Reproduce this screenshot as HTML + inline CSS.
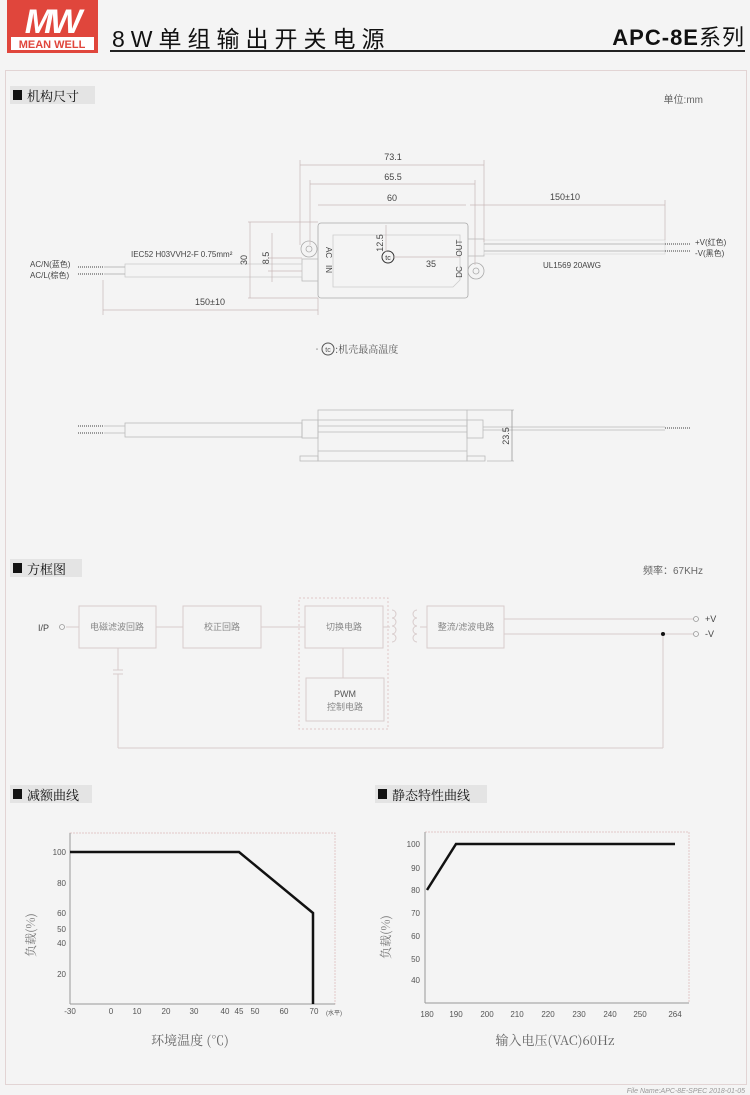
<!DOCTYPE html>
<html><head><meta charset="utf-8"><style>
html,body{margin:0;padding:0;background:#f4f4f4;}
svg{display:block;}
text{font-family:"Liberation Sans","Noto Sans CJK SC",sans-serif;}
.cj{font-family:"Noto Serif CJK SC","Noto Sans CJK SC",serif;}
</style></head><body>
<svg width="750" height="1095" viewBox="0 0 750 1095" xmlns="http://www.w3.org/2000/svg">
<rect width="750" height="1095" fill="#f4f4f4"/>
<!-- logo -->
<rect x="7" y="0" width="91" height="53" fill="#e0463c"/>
<text x="52" y="33" font-size="34" font-style="italic" font-weight="bold" fill="#fff" text-anchor="middle" letter-spacing="-3">MW</text>
<rect x="11" y="37" width="83" height="13" fill="#fff"/>
<text x="52" y="48" font-size="11" font-weight="bold" fill="#e0463c" text-anchor="middle">MEAN WELL</text>
<!-- title -->
<text x="112" y="47" font-size="23" fill="#111" letter-spacing="6">8W单组输出开关电源</text>
<text x="745" y="45" font-size="22" fill="#111" text-anchor="end" font-weight="bold" letter-spacing="1">APC-8E<tspan font-weight="normal">系列</tspan></text>
<line x1="110" y1="51" x2="745" y2="51" stroke="#222" stroke-width="2"/>
<!-- frame -->
<rect x="5.5" y="70.5" width="741" height="1014" fill="none" stroke="#e2d4d4" stroke-width="1"/>
<!-- section labels -->
<g font-size="13" fill="#111">
<rect x="10" y="86" width="85" height="18" fill="#e4e4e4"/><rect x="13" y="90" width="9" height="10" fill="#111"/><text x="27" y="101" class="cj">机构尺寸</text>
<rect x="10" y="559" width="72" height="18" fill="#e4e4e4"/><rect x="13" y="563" width="9" height="10" fill="#111"/><text x="27" y="574" class="cj">方框图</text>
<rect x="10" y="785" width="82" height="18" fill="#e4e4e4"/><rect x="13" y="789" width="9" height="10" fill="#111"/><text x="27" y="800" class="cj">减额曲线</text>
<rect x="375" y="785" width="112" height="18" fill="#e4e4e4"/><rect x="378" y="789" width="9" height="10" fill="#111"/><text x="392" y="800" class="cj">静态特性曲线</text>
</g>
<text x="703" y="103" font-size="10" fill="#666" text-anchor="end">单位:mm</text>
<text x="703" y="574" font-size="10" fill="#666" text-anchor="end">频率：67KHz</text>

<!-- mech drawing top view -->
<g stroke="#aaa" fill="none" stroke-width="0.8">
<rect x="318" y="223" width="150" height="75" rx="3"/>
<path d="M333 235 H460 V280 L453 287 H333 Z" stroke="#ccc"/>
<circle cx="309" cy="249" r="8"/><circle cx="309" cy="249" r="3"/>
<circle cx="476" cy="271" r="8"/><circle cx="476" cy="271" r="3"/>
<rect x="302" y="259" width="16" height="22" stroke="#bbb"/>
<rect x="468" y="239" width="16" height="17" stroke="#bbb"/>
<rect x="125" y="264" width="177" height="13" stroke="#ccc"/>
<line x1="104" y1="267" x2="125" y2="267"/><line x1="104" y1="274" x2="125" y2="274"/>
<rect x="484" y="240" width="181" height="14" stroke="#ddd"/>
<line x1="484" y1="244" x2="665" y2="244"/><line x1="484" y1="251" x2="665" y2="251"/>
</g>
<g stroke="#999" stroke-width="2" stroke-dasharray="1 1">
<line x1="78" y1="267" x2="104" y2="267"/><line x1="78" y1="274" x2="104" y2="274"/>
<line x1="665" y1="244" x2="690" y2="244"/><line x1="665" y1="251" x2="690" y2="251"/>
</g>
<circle cx="388" cy="257" r="6" fill="none" stroke="#333"/><text x="388" y="260" font-size="7" text-anchor="middle" fill="#333">tc</text>
<!-- dims -->
<g stroke="#c8b8b8" stroke-width="0.7" fill="none">
<line x1="300" y1="165" x2="484" y2="165"/><line x1="300" y1="160" x2="300" y2="245"/><line x1="484" y1="160" x2="484" y2="242"/>
<line x1="310" y1="184" x2="475" y2="184"/><line x1="310" y1="180" x2="310" y2="245"/><line x1="475" y1="180" x2="475" y2="265"/>
<line x1="318" y1="205" x2="466" y2="205"/><line x1="470" y1="205" x2="665" y2="205"/><line x1="665" y1="200" x2="665" y2="240"/>
<line x1="103" y1="310" x2="318" y2="310"/><line x1="103" y1="280" x2="103" y2="315"/><line x1="318" y1="298" x2="318" y2="315"/>
<line x1="250" y1="222" x2="250" y2="298"/><line x1="248" y1="222" x2="318" y2="222"/><line x1="248" y1="298" x2="318" y2="298"/>
<line x1="272" y1="233" x2="272" y2="282"/><line x1="268" y1="258" x2="302" y2="258"/><line x1="268" y1="271" x2="302" y2="271"/>
<line x1="386" y1="225" x2="386" y2="252"/><line x1="394" y1="257" x2="460" y2="257"/>
</g>
<g font-size="9" fill="#444">
<text x="393" y="160" text-anchor="middle">73.1</text>
<text x="393" y="180" text-anchor="middle">65.5</text>
<text x="392" y="201" text-anchor="middle">60</text>
<text x="565" y="200" text-anchor="middle">150±10</text>
<text x="210" y="305" text-anchor="middle">150±10</text>
<text x="431" y="267" text-anchor="middle">35</text>
<text x="247" y="260" transform="rotate(-90 247 260)" text-anchor="middle">30</text>
<text x="269" y="258" transform="rotate(-90 269 258)" text-anchor="middle">8.5</text>
<text x="383" y="243" transform="rotate(-90 383 243)" text-anchor="middle">12.5</text>
<text x="131" y="257" font-size="8">IEC52 H03VVH2-F  0.75mm²</text>
<text x="543" y="268" font-size="8">UL1569  20AWG</text>
<text x="695" y="245" font-size="8">+V(红色)</text>
<text x="695" y="256" font-size="8">-V(黑色)</text>
<text x="30" y="267" font-size="8">AC/N(蓝色)</text>
<text x="30" y="278" font-size="8">AC/L(棕色)</text>
<text x="326" y="247" font-size="8" transform="rotate(90 326 247)">AC</text>
<text x="326" y="265" font-size="8" transform="rotate(90 326 265)">IN</text>
<text x="462" y="248" font-size="8" transform="rotate(-90 462 248)" text-anchor="middle">OUT</text>
<text x="462" y="272" font-size="8" transform="rotate(-90 462 272)" text-anchor="middle">DC</text>
</g>
<text x="312" y="353" font-size="10" fill="#555" class="cj">•</text>
<circle cx="328" cy="349" r="6" fill="none" stroke="#555"/><text x="328" y="352" font-size="7" text-anchor="middle" fill="#555">tc</text>
<text x="335" y="353" font-size="10" fill="#555" class="cj">:机壳最高温度</text>

<!-- side view -->
<g stroke="#bbb" fill="none" stroke-width="0.8">
<rect x="318" y="410" width="149" height="51"/>
<line x1="318" y1="420" x2="467" y2="420"/><line x1="318" y1="426" x2="467" y2="426"/><line x1="318" y1="432" x2="467" y2="432"/><line x1="318" y1="451" x2="467" y2="451"/>
<rect x="302" y="420" width="16" height="18"/><rect x="467" y="420" width="16" height="18"/>
<rect x="125" y="423" width="177" height="14"/>
<line x1="104" y1="426" x2="125" y2="426"/><line x1="104" y1="433" x2="125" y2="433"/>
<line x1="483" y1="427" x2="665" y2="427"/><line x1="483" y1="430" x2="665" y2="430"/>
<rect x="300" y="456" width="18" height="5"/><rect x="467" y="456" width="18" height="5"/>
<line x1="467" y1="410" x2="514" y2="410"/><line x1="487" y1="461" x2="514" y2="461"/>
<line x1="512" y1="410" x2="512" y2="461" stroke="#999"/>
</g>
<g stroke="#999" stroke-width="2" stroke-dasharray="1 1">
<line x1="78" y1="426" x2="104" y2="426"/><line x1="78" y1="433" x2="104" y2="433"/><line x1="665" y1="428" x2="690" y2="428"/>
</g>
<text x="509" y="436" font-size="9" fill="#444" transform="rotate(-90 509 436)" text-anchor="middle">23.5</text>

<!-- block diagram -->
<g stroke="#d8cccc" fill="none" stroke-width="1">
<rect x="79" y="606" width="77" height="42"/>
<rect x="183" y="606" width="78" height="42"/>
<rect x="299" y="598" width="89" height="131" stroke-dasharray="2 2" stroke="#e0c8c8"/>
<rect x="305" y="606" width="78" height="42"/>
<rect x="306" y="678" width="78" height="43"/>
<rect x="427" y="606" width="77" height="42"/>
<line x1="66" y1="627" x2="79" y2="627"/><line x1="156" y1="627" x2="183" y2="627"/><line x1="261" y1="627" x2="305" y2="627"/>
<line x1="383" y1="627" x2="390" y2="627"/><line x1="420" y1="627" x2="427" y2="627"/>
<line x1="343" y1="648" x2="343" y2="678"/>
<line x1="504" y1="619" x2="693" y2="619"/><line x1="504" y1="634" x2="693" y2="634"/>
<line x1="663" y1="634" x2="663" y2="748"/><line x1="118" y1="748" x2="663" y2="748"/>
<line x1="118" y1="648" x2="118" y2="670"/><line x1="118" y1="674" x2="118" y2="748"/>
<line x1="113" y1="670" x2="123" y2="670"/><line x1="113" y1="674" x2="123" y2="674"/>
<path d="M392 610 a4 4 0 0 1 0 8 a4 4 0 0 1 0 8 a4 4 0 0 1 0 8 a4 4 0 0 1 0 8"/>
<path d="M417 610 a4 4 0 0 0 0 8 a4 4 0 0 0 0 8 a4 4 0 0 0 0 8 a4 4 0 0 0 0 8"/>
</g>
<g fill="none" stroke="#999" stroke-width="0.8"><circle cx="62" cy="627" r="2.5"/><circle cx="696" cy="619" r="2.5"/><circle cx="696" cy="634" r="2.5"/></g>
<circle cx="663" cy="634" r="2" fill="#111"/>
<g font-size="9" fill="#888" class="cj" text-anchor="middle">
<text x="117" y="630">电磁滤波回路</text>
<text x="222" y="630">校正回路</text>
<text x="344" y="630">切换电路</text>
<text x="466" y="630">整流/滤波电路</text>
<text x="345" y="710">控制电路</text>
</g>
<text x="345" y="697" font-size="9" fill="#555" text-anchor="middle">PWM</text>
<text x="38" y="631" font-size="9" fill="#444">I/P</text>
<text x="705" y="622" font-size="9" fill="#444">+V</text>
<text x="705" y="637" font-size="9" fill="#444">-V</text>

<!-- chart1 -->
<rect x="70" y="833" width="265" height="171" fill="none" stroke="#e2c8c8" stroke-dasharray="2 1"/>
<line x1="70" y1="833" x2="70" y2="1004" stroke="#999"/><line x1="70" y1="1004" x2="335" y2="1004" stroke="#999"/>
<polyline points="70,852 239,852 313,913 313,1004" fill="none" stroke="#111" stroke-width="2.5"/>
<g font-size="8" fill="#555" text-anchor="end">
<text x="66" y="855">100</text><text x="66" y="886">80</text><text x="66" y="916">60</text><text x="66" y="932">50</text><text x="66" y="946">40</text><text x="66" y="977">20</text>
</g>
<g font-size="8" fill="#555" text-anchor="middle">
<text x="70" y="1014">-30</text><text x="111" y="1014">0</text><text x="137" y="1014">10</text><text x="166" y="1014">20</text><text x="194" y="1014">30</text><text x="225" y="1014">40</text><text x="239" y="1014">45</text><text x="255" y="1014">50</text><text x="284" y="1014">60</text><text x="314" y="1014">70</text><text x="334" y="1015" font-size="6">(水平)</text>
</g>
<text x="190" y="1045" font-size="13" fill="#666" text-anchor="middle" class="cj">环境温度 (℃)</text>
<text x="35" y="935" font-size="12" fill="#777" transform="rotate(-90 35 935)" text-anchor="middle" class="cj">负载(%)</text>

<!-- chart2 -->
<rect x="425" y="832" width="264" height="171" fill="none" stroke="#e2c8c8" stroke-dasharray="2 1"/>
<line x1="425" y1="832" x2="425" y2="1003" stroke="#999"/><line x1="425" y1="1003" x2="689" y2="1003" stroke="#999"/>
<polyline points="427,890 456,844 675,844" fill="none" stroke="#111" stroke-width="2.5"/>
<g font-size="8" fill="#555" text-anchor="end">
<text x="420" y="847">100</text><text x="420" y="871">90</text><text x="420" y="893">80</text><text x="420" y="916">70</text><text x="420" y="939">60</text><text x="420" y="962">50</text><text x="420" y="983">40</text>
</g>
<g font-size="8" fill="#555" text-anchor="middle">
<text x="427" y="1017">180</text><text x="456" y="1017">190</text><text x="487" y="1017">200</text><text x="517" y="1017">210</text><text x="548" y="1017">220</text><text x="579" y="1017">230</text><text x="610" y="1017">240</text><text x="640" y="1017">250</text><text x="675" y="1017">264</text>
</g>
<text x="555" y="1045" font-size="13" fill="#666" text-anchor="middle" class="cj">输入电压(VAC)60Hz</text>
<text x="390" y="937" font-size="12" fill="#777" transform="rotate(-90 390 937)" text-anchor="middle" class="cj">负载(%)</text>

<text x="745" y="1093" font-size="7" font-style="italic" fill="#999" text-anchor="end">File Name:APC-8E-SPEC  2018-01-05</text>
</svg>
</body></html>
